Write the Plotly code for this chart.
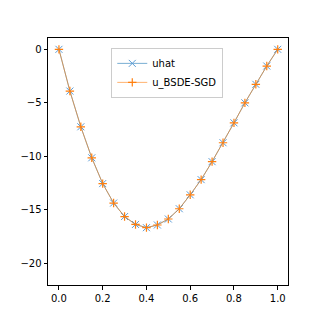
import plotly.graph_objects as go

# grid points and the two solutions
x_vals = [0.0, 0.05, 0.1, 0.15, 0.2, 0.25, 0.3, 0.35, 0.4, 0.45, 0.5,
          0.55, 0.6, 0.65, 0.7, 0.75, 0.8, 0.85, 0.9, 0.95, 1.0]
uhat = [0.0, -3.9, -7.24, -10.14, -12.55, -14.37, -15.63, -16.37, -16.67, -16.42, -15.86,
        -14.9, -13.6, -12.18, -10.5, -8.73, -6.87, -5.0, -3.27, -1.56, 0.0]
u_bsde = [0.0, -3.9, -7.24, -10.14, -12.55, -14.37, -15.63, -16.37, -16.67, -16.42, -15.86,
          -14.9, -13.6, -12.18, -10.5, -8.73, -6.87, -5.0, -3.27, -1.56, 0.0]

fig = go.Figure()
fig.add_trace(go.Scatter(x=x_vals, y=uhat, name='uhat', mode='lines+markers',
                         line=dict(color='#1f77b4', width=0.6),
                         marker=dict(symbol='x-thin', size=7, line=dict(color='#5a9bd5', width=1))))
fig.add_trace(go.Scatter(x=x_vals, y=u_bsde, name='u_BSDE-SGD', mode='lines+markers',
                         line=dict(color='#ff7f0e', width=0.6),
                         marker=dict(symbol='cross-thin', size=6, line=dict(color='#ff7f0e', width=1.2))))

axis_style = dict(showgrid=False, zeroline=False, showline=True, mirror=True,
                  linecolor='black', linewidth=1, ticks='outside', ticklen=3.5,
                  tickcolor='black', tickfont=dict(family='DejaVu Sans', size=10, color='black'))

# the page body adds an 8px offset, so the figure is a bit smaller
fig.update_layout(
    width=312, height=312,
    margin=dict(l=32, r=32, t=30, b=35),
    plot_bgcolor='white', paper_bgcolor='white',
    xaxis=dict(range=[-0.05, 1.047], tickvals=[0, 0.2, 0.4, 0.6, 0.8, 1.0],
               ticktext=['0.0', '0.2', '0.4', '0.6', '0.8', '1.0'], **axis_style),
    yaxis=dict(range=[-22.03, 1.06], tickvals=[0, -5, -10, -15, -20],
               ticktext=['0', '\u22125', '\u221210', '\u221215', '\u221220'], **axis_style),
    legend=dict(x=0.497, xanchor='center', y=0.96, yanchor='top',
                bgcolor='white', bordercolor='#cccccc', borderwidth=1,
                font=dict(family='DejaVu Sans', size=10, color='black'),
                tracegroupgap=0, itemwidth=30),
    showlegend=True,
)

fig.write_html("out.html")
